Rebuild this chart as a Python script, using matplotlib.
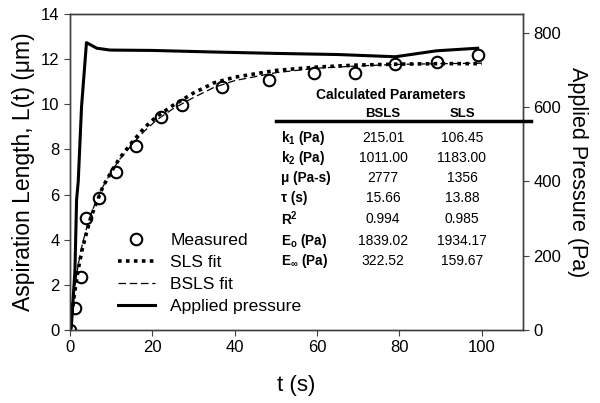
import matplotlib
matplotlib.use('Agg')
import matplotlib.pyplot as plt
from matplotlib.lines import Line2D

plt.rcParams['font.family'] = ['Liberation Sans', 'DejaVu Sans']
plt.rcParams['mathtext.fontset'] = 'custom'
plt.rcParams['mathtext.rm'] = 'Liberation Sans:bold'
plt.rcParams['mathtext.bf'] = 'Liberation Sans:bold'
plt.rcParams['mathtext.it'] = 'Liberation Sans:bold'
plt.rcParams['mathtext.default'] = 'bf'

# measured aspiration length (um)
t_meas = [0, 1.2, 2.6, 4.0, 7.1, 11.1, 16.0, 22.2, 27.1, 36.8, 48.4, 59.3, 69.2, 79.0, 89.0, 99.1]
L_meas = [0, 0.97, 2.36, 4.96, 5.85, 7.01, 8.15, 9.42, 9.97, 10.78, 11.08, 11.4, 11.4, 11.77, 11.89, 12.18]

# fitted curves
t_fit = [0, 1, 2, 3, 4, 5, 6, 8, 10, 12, 15, 18, 21, 25, 30, 35, 40, 50, 60, 70, 80, 90, 100]
L_sls = [0, 1.5, 2.7, 3.6, 4.3, 4.95, 5.45, 6.35, 7.0, 7.6, 8.3, 8.95, 9.45, 9.95, 10.5, 10.95, 11.2,
         11.5, 11.65, 11.74, 11.78, 11.8, 11.8]
L_bsls = [0, 1.7, 2.9, 3.8, 4.5, 5.1, 5.55, 6.35, 7.0, 7.55, 8.2, 8.8, 9.3, 9.8, 10.3, 10.75, 11.05,
          11.4, 11.6, 11.7, 11.77, 11.8, 11.82]

# applied pressure (Pa)
t_pres = [0, 0.3, 1.2, 1.6, 2.0, 2.8, 4.0, 6.5, 9.7, 20, 34, 50, 65, 79, 89, 99]
p_pres = [0, 5, 160, 350, 400, 600, 773, 758, 753, 752, 748, 744, 741, 735, 751, 758]

# table of calculated parameters
row_labels = ['k$_1$ (Pa)', 'k$_2$ (Pa)', 'μ (Pa-s)', 'τ (s)', 'R$^2$', 'E$_o$ (Pa)', 'E$_\\infty$ (Pa)']
bsls_vals = ['215.01', '1011.00', '2777', '15.66', '0.994', '1839.02', '322.52']
sls_vals = ['106.45', '1183.00', '1356', '13.88', '0.985', '1934.17', '159.67']

fig = plt.figure(figsize=(6, 4.03), dpi=100)
ax = fig.add_axes([70/600, 1-330/403, 453/600, 316/403])
ax2 = ax.twinx()

ax.plot(t_meas, L_meas, 'o', mfc='none', mec='black', ms=8.3, mew=1.5, label='Measured', zorder=5)
ax.plot(t_fit, L_sls, color='black', ls=(0, (1, 1.2)), lw=2.6, label='SLS fit')
ax.plot(t_fit, L_bsls, color='black', ls=(0, (6, 3)), lw=0.9, label='BSLS fit')
ax2.plot(t_pres, p_pres, color='black', lw=2.2, label='Applied pressure')

ax.set_xlim(0, 110)
ax.set_ylim(0, 14)
ax2.set_ylim(0, 850)
ax.set_xticks(range(0, 101, 20))
ax.set_yticks(range(0, 15, 2))
ax2.set_yticks(range(0, 801, 200))

for a in (ax, ax2):
    for s in a.spines.values():
        s.set_color('#404040')
        s.set_linewidth(1)
    a.tick_params(direction='out', length=4, color='#404040', labelsize=12)
ax.tick_params(top=False, right=False)

ax.set_xlabel('t (s)', fontsize=16, labelpad=14)
ax.set_ylabel('Aspiration Length, L(t) (μm)', fontsize=16.5, labelpad=4)
ax2.set_ylabel('Applied Pressure (Pa)', fontsize=15.5, rotation=-90, va='center')
ax2.yaxis.set_label_coords(1.121, 0.5)

h1, l1 = ax.get_legend_handles_labels()
h2, l2 = ax2.get_legend_handles_labels()
ax.legend(h1 + h2, l1 + l2, loc='upper left', bbox_to_anchor=(118/600, 1-233/403),
          bbox_transform=fig.transFigure, frameon=False, fontsize=12.6, borderpad=0,
          borderaxespad=0, handlelength=2.1, handletextpad=0.9, labelspacing=0.38)

# parameter table
fig.text(391/600, 1-95/403, 'Calculated Parameters', ha='center', va='center',
         fontsize=10, fontweight='bold')
fig.text(383/600, 1-114/403, 'BSLS', ha='center', va='center', fontsize=9.5, fontweight='bold')
fig.text(462/600, 1-114/403, 'SLS', ha='center', va='center', fontsize=9.5, fontweight='bold')
fig.add_artist(Line2D([276/600, 531/600], [1-121/403, 1-121/403], color='black', lw=2.5,
                      transform=fig.transFigure))
row_y = [138, 158, 178, 198, 219, 241, 261]
for lab, b, s, y in zip(row_labels, bsls_vals, sls_vals, row_y):
    fig.text(281/600, 1-y/403, lab, ha='left', va='center', fontsize=9.8, fontweight='bold')
    fig.text(383/600, 1-y/403, b, ha='center', va='center', fontsize=10)
    fig.text(462/600, 1-y/403, s, ha='center', va='center', fontsize=10)

fig.savefig('out.png', dpi=100)
